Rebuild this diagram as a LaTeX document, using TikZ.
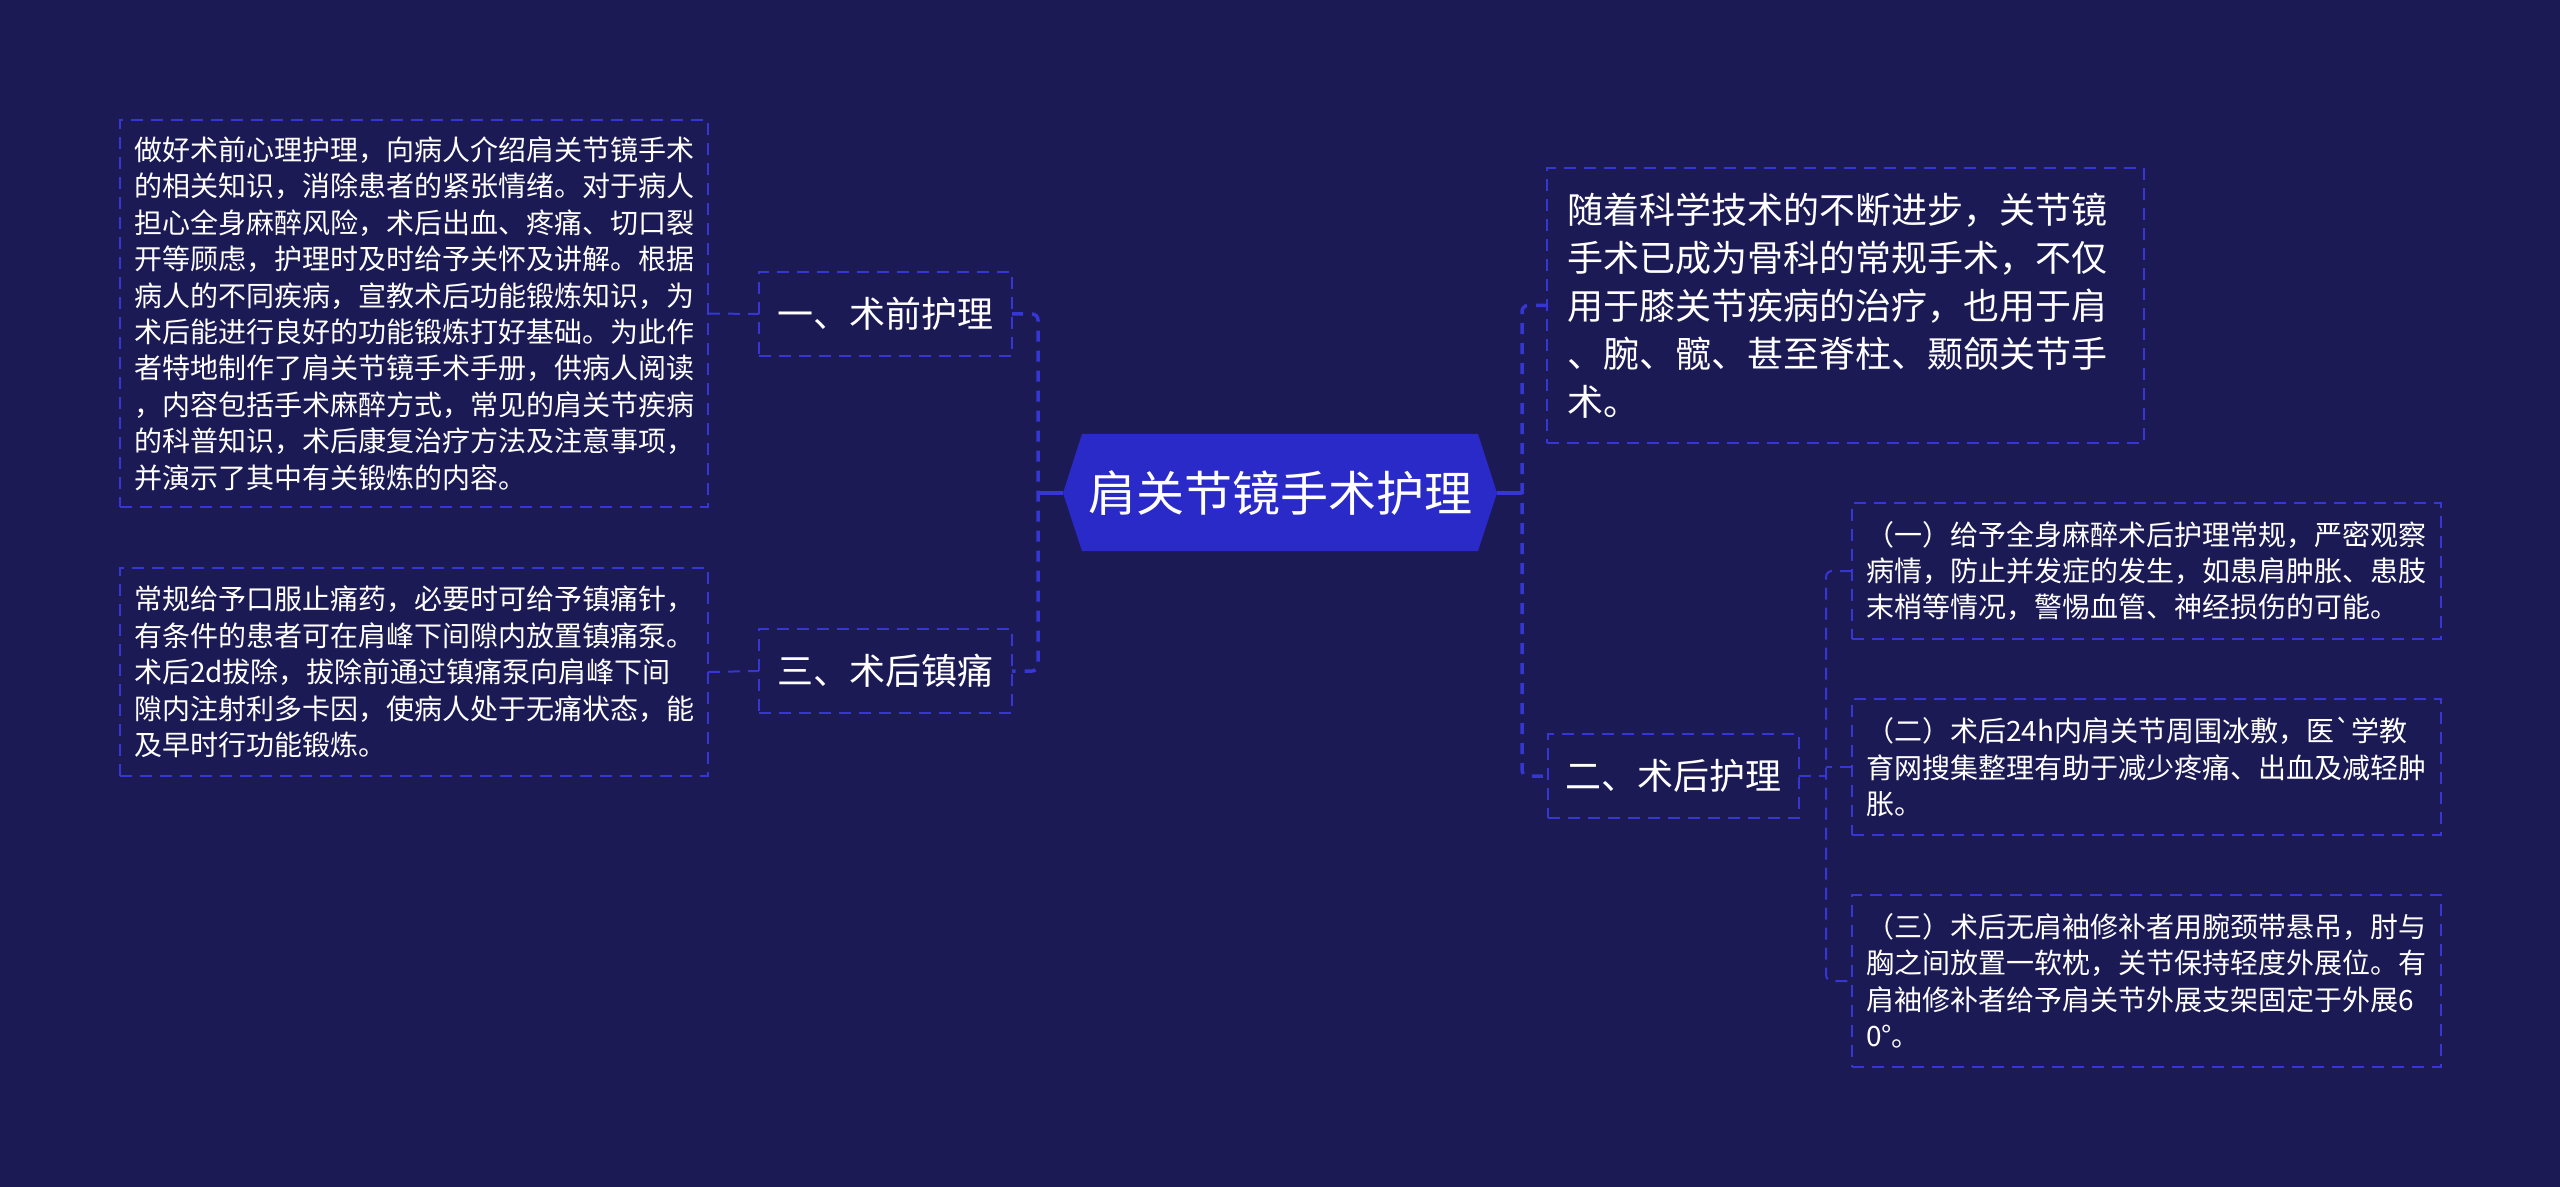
\documentclass[tikz,border=0pt]{standalone}
\usepackage{fontspec}
\setmainfont{Noto Sans CJK SC}
\newfontfamily\plaincjk{Noto Sans CJK SC}
\definecolor{bg}{HTML}{1B1A55}
\definecolor{ln}{HTML}{3636D2}
\definecolor{hexfill}{HTML}{2A2AC8}
\begin{document}
\begin{tikzpicture}[x=0.5pt,y=-0.5pt,
  box/.style={draw=ln, line width=1pt, dash pattern=on 6pt off 4pt, text=white,
    inner ysep=0pt, outer sep=0pt},
  para/.style={box, align=left, font=\fontsize{14pt}{18.2pt}\selectfont, inner xsep=7pt},
  label/.style={box, align=center, font=\fontsize{18pt}{22pt}\selectfont,
    minimum height=42pt, inner xsep=0pt},
  spine/.style={draw=ln, line width=1.75pt, dash pattern=on 5.5pt off 4.5pt, rounded corners=3pt},
  thinline/.style={draw=ln, line width=1pt, dash pattern=on 6pt off 4pt, rounded corners=3pt},
  stub/.style={draw=ln, line width=1.75pt}]
\fill[bg] (0,0) rectangle (2560,1187);
\useasboundingbox (0,0) rectangle (2560,1187);

% root hexagon
\fill[hexfill] (1082,434) -- (1478,434) -- (1497,493) -- (1478,551) -- (1082,551) -- (1063,493) -- cycle;
\node[text=white, font=\fontsize{24pt}{28pt}\selectfont, inner sep=0pt] (root) at (1280,493) {肩关节镜手术护理};
\coordinate (rootW) at (1063,493);
\coordinate (rootE) at (1497,493);
\coordinate (lsp) at (1038,493);
\coordinate (rsp) at (1522,493);
\coordinate (rsp2) at (1826,776);

% left side
\node[para, minimum width=294pt, minimum height=193.5pt, text width=280pt] (t1) at (414,313.5) {%
做好术前心理护理，向病人介绍肩关节镜手术\\
的相关知识，消除患者的紧张情绪。对于病人\\
担心全身麻醉风险，术后出血、疼痛、切口裂\\
开等顾虑，护理时及时给予关怀及讲解。根据\\
病人的不同疾病，宣教术后功能锻炼知识，为\\
术后能进行良好的功能锻炼打好基础。为此作\\
者特地制作了肩关节镜手术手册，供病人阅读\\
，内容包括手术麻醉方式，常见的肩关节疾病\\
的科普知识，术后康复治疗方法及注意事项，\\
并演示了其中有关锻炼的内容。};

\node[para, minimum width=294pt, minimum height=104pt, text width=280pt] (t2) at (414,672) {%
常规给予口服止痛药，必要时可给予镇痛针，\\
有条件的患者可在肩峰下间隙内放置镇痛泵。\\
术后2d拔除，拔除前通过镇痛泵向肩峰下间\\
隙内注射利多卡因，使病人处于无痛状态，能\\
及早时行功能锻炼。};

\node[label, minimum width=126.5pt] (b1) at (885.5,314) {一、术前护理};
\node[label, minimum width=126.5pt] (b3) at (885.5,671) {三、术后镇痛};

% right side
\node[box, align=left, font=\fontsize{18pt}{24pt}\selectfont, inner xsep=10pt,
  minimum width=298.5pt, minimum height=137.5pt, text width=278.5pt] (rt) at (1845.5,305.5) {%
随着科学技术的不断进步，关节镜\\
手术已成为骨科的常规手术，不仅\\
用于膝关节疾病的治疗，也用于肩\\
、腕、髋、甚至脊柱、颞颌关节手\\
术。};

\node[label, minimum width=125.5pt] (b2) at (1673.5,776) {二、术后护理};

\node[para, minimum width=294.5pt, minimum height=68pt, text width=280.5pt] (c1) at (2146.5,571) {%
（一）给予全身麻醉术后护理常规，严密观察\\
病情，防止并发症的发生，如患肩肿胀、患肢\\
末梢等情况，警惕血管、神经损伤的可能。};

\node[para, minimum width=294.5pt, minimum height=68pt, text width=280.5pt] (c2) at (2146.5,767) {%
（二）术后24h内肩关节周围冰敷，医{\plaincjk\symbol{96}}学教\\
育网搜集整理有助于减少疼痛、出血及减轻肿\\
胀。};

\node[para, minimum width=294.5pt, minimum height=86pt, text width=280.5pt] (c3) at (2146.5,981) {%
（三）术后无肩袖修补者用腕颈带悬吊，肘与\\
胸之间放置一软枕，关节保持轻度外展位。有\\
肩袖修补者给予肩关节外展支架固定于外展6\\
0°。};

% connectors
\draw[stub] (rootW) -- (lsp);
\draw[stub] (rootE) -- (rsp);
\draw[spine] (b1.east) -- (b1.east -| lsp) -- (b3.east -| lsp) -- (b3.east);
\draw[spine] (rt.west) -- (rt.west -| rsp) -- (b2.west -| rsp) -- (b2.west);
\draw[thinline] (t1.east) -- (b1.west);
\draw[thinline] (t2.east) -- (b3.west);
\draw[thinline] (c1.west) -- (c1.west -| rsp2) -- (c3.west -| rsp2) -- (c3.west);
\draw[thinline] (b2.east) -- (rsp2);
\draw[thinline] (c2.west) -- (c2.west -| rsp2);
\end{tikzpicture}
\end{document}
